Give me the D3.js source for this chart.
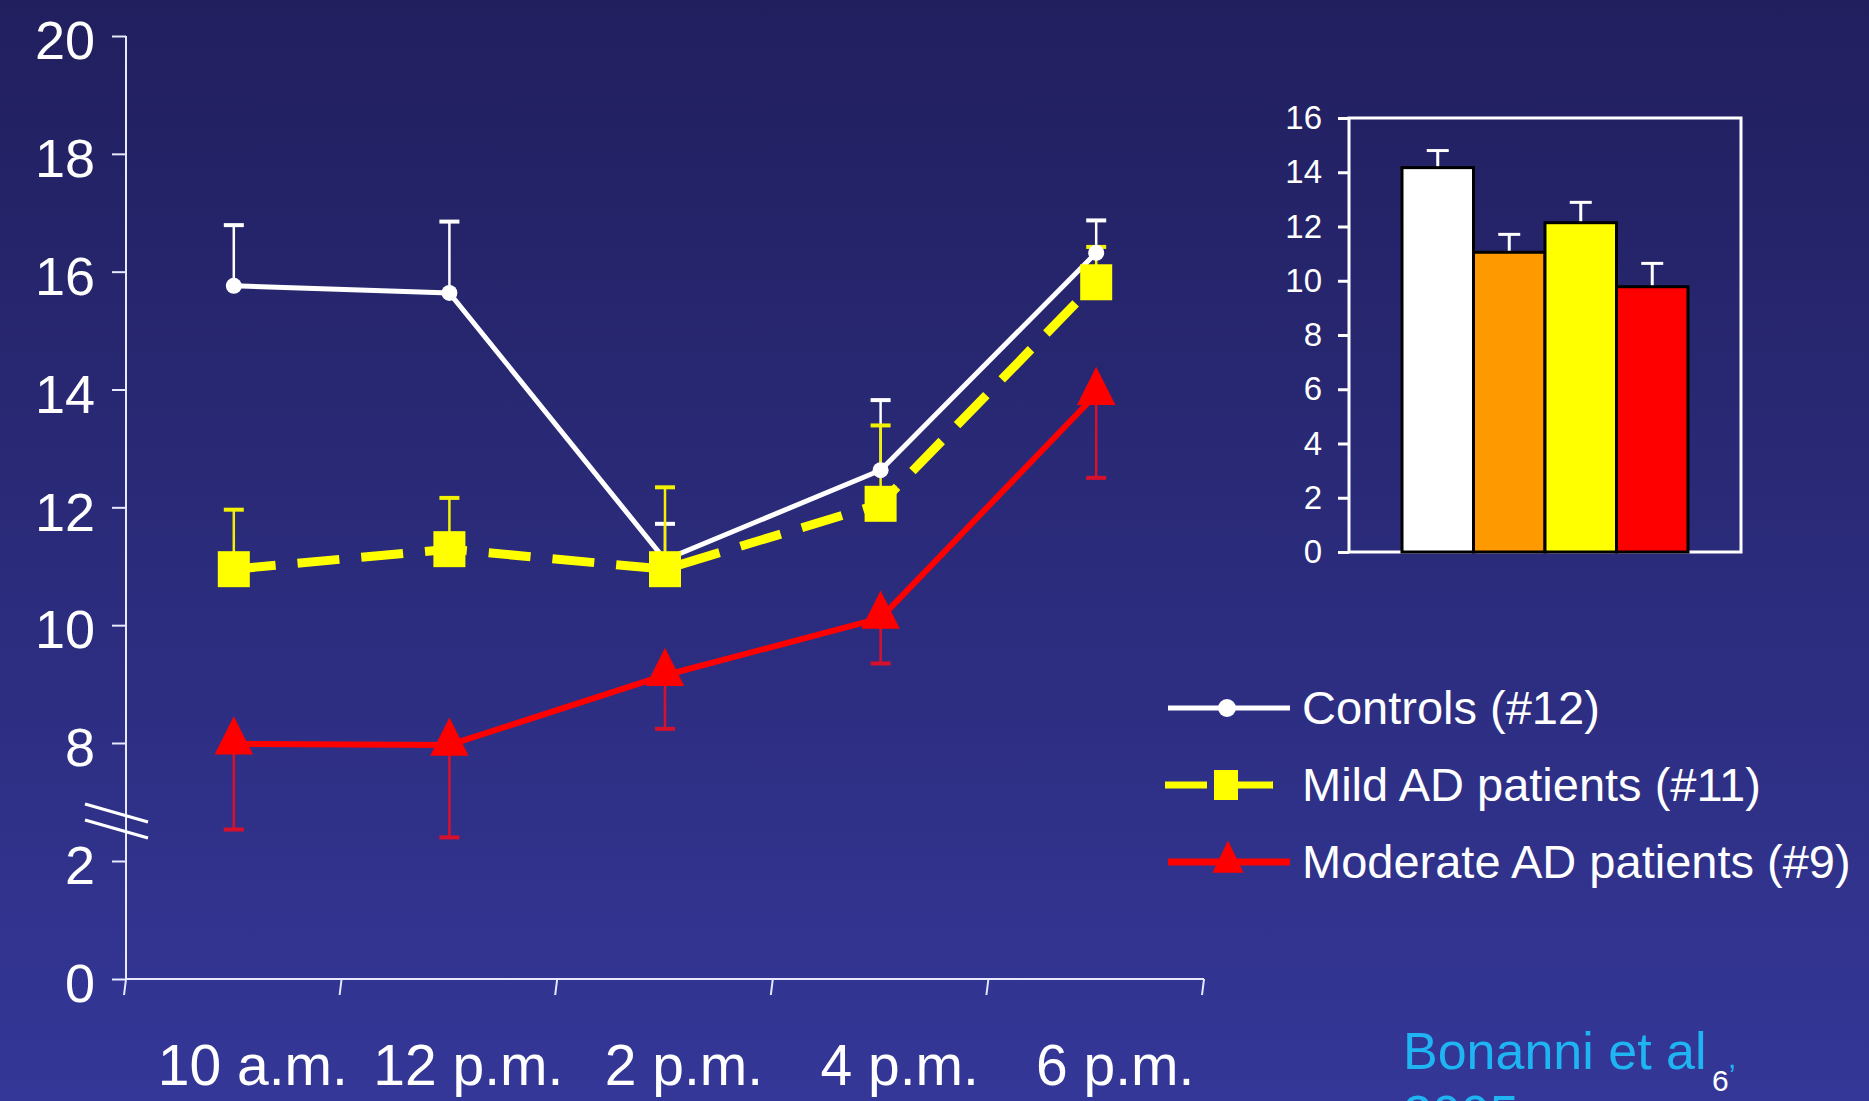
<!DOCTYPE html>
<html>
<head>
<meta charset="utf-8">
<script src="https://cdn.jsdelivr.net/npm/d3@7"></script>
<style>
  html, body { margin: 0; padding: 0; background: #2a2a7c; }
  svg { display: block; font-family: 'Liberation Sans', Arial, sans-serif; }
</style>
</head>
<body>
<div id="chart"></div>
<script>
// main chart data
const times = ['10 a.m.', '12 p.m.', '2 p.m.', '4 p.m.', '6 p.m.'];
const controlsMean = [15.76, 15.64, 11.11, 12.63, 16.32];
const controlsSE = [1.03, 1.21, 0.61, 1.19, 0.55];
const mildMean = [10.95, 11.29, 10.95, 12.06, 15.82];
const mildSE = [1.01, 0.87, 1.39, 1.33, 0.6];
const moderateMean = [7.96, 7.9, 9.15, 10.12, 13.92];
const moderateSE = [4.36, 4.7, 0.91, 0.77, 1.42];
const yTicks = [0, 2, 8, 10, 12, 14, 16, 18, 20];

const legendLabels = ['Controls (#12)', 'Mild AD patients (#11)', 'Moderate AD patients (#9)'];

// inset bar chart
const insetGroups = ['controls', 'group2', 'group3', 'group4'];
const insetMean = [14.17, 11.05, 12.14, 9.78];
const insetSE = [0.63, 0.66, 0.75, 0.86];
const insetTicks = [0, 2, 4, 6, 8, 10, 12, 14, 16];
const insetColors = ['#ffffff', '#ff9900', '#ffff00', '#ff0000'];

const W = 1869, H = 1101;

const svg = d3.select('#chart').append('svg')
  .attr('width', W).attr('height', H);

const defs = svg.append('defs');
const grad = defs.append('linearGradient')
  .attr('id', 'bg').attr('x1', 0).attr('y1', 0).attr('x2', 0).attr('y2', 1);
grad.append('stop').attr('offset', '0%').attr('stop-color', '#211f5e');
grad.append('stop').attr('offset', '100%').attr('stop-color', '#343797');
svg.append('rect').attr('width', W).attr('height', H).attr('fill', 'url(#bg)');

// scales: broken y axis (2 -> 8 squeezed into one step)
const y = d3.scaleLinear().domain([0, 2, 8, 20]).range([979, 861, 743, 36]);
const x = d3.scaleBand().domain(times).range([126, 1204]).padding(0);
const cx = (d) => x(d) + x.bandwidth() / 2;

const g = svg.append('g');

// y axis
const yAxis = g.append('g')
  .attr('transform', 'translate(126,0)')
  .call(d3.axisLeft(y).tickValues(yTicks).tickSize(14).tickPadding(17).tickSizeOuter(0));
yAxis.select('.domain').remove();
yAxis.selectAll('line').attr('stroke', '#e8e8ff').attr('stroke-width', 2);
yAxis.selectAll('text')
  .attr('fill', '#ffffff')
  .attr('dy', '0.42em')
  .style('font-size', '54px')
  .style('font-family', "'Liberation Sans', Arial, sans-serif");
g.append('line')
  .attr('x1', 126).attr('x2', 126)
  .attr('y1', y(20)).attr('y2', y(0))
  .attr('stroke', '#e8e8ff').attr('stroke-width', 2);

// axis break marks
[0, 16].forEach((off) => {
  g.append('line')
    .attr('x1', 85).attr('y1', 804 + off)
    .attr('x2', 148).attr('y2', 822 + off)
    .attr('stroke', '#ffffff').attr('stroke-width', 3);
});

// x axis
g.append('line')
  .attr('x1', 126).attr('x2', 1204)
  .attr('y1', y(0)).attr('y2', y(0))
  .attr('stroke', '#e8e8ff').attr('stroke-width', 2);
const bounds = times.map((t) => x(t)).concat([x.range()[1]]);
g.selectAll('.xtick')
  .data(bounds)
  .join('line')
  .attr('class', 'xtick')
  .attr('x1', (d) => d).attr('x2', (d) => d - 2)
  .attr('y1', y(0)).attr('y2', y(0) + 16)
  .attr('stroke', '#e8e8ff').attr('stroke-width', 2);
g.selectAll('.xlabel')
  .data(times)
  .join('text')
  .attr('class', 'xlabel')
  .attr('x', (d) => cx(d) + 19)
  .attr('y', 1085)
  .attr('text-anchor', 'middle')
  .attr('fill', '#ffffff')
  .style('font-size', '57px')
  .text((d) => d);

const series = [
  {mean: controlsMean, se: controlsSE, dir: 1, color: '#ffffff', errColor: '#ffffff', width: 5, dash: null},
  {mean: mildMean, se: mildSE, dir: 1, color: '#ffff00', errColor: '#f2f200', width: 9, dash: '42,22'},
  {mean: moderateMean, se: moderateSE, dir: -1, color: '#ff0000', errColor: '#d8102c', width: 6, dash: null},
];

// error bars
series.forEach((s) => {
  const eg = g.append('g');
  times.forEach((t, i) => {
    const end = s.mean[i] + s.dir * s.se[i];
    eg.append('line')
      .attr('x1', cx(t)).attr('x2', cx(t))
      .attr('y1', y(s.mean[i])).attr('y2', y(end))
      .attr('stroke', s.errColor).attr('stroke-width', 2.5);
    eg.append('line')
      .attr('x1', cx(t) - 10).attr('x2', cx(t) + 10)
      .attr('y1', y(end)).attr('y2', y(end))
      .attr('stroke', s.errColor).attr('stroke-width', 4);
  });
});

// lines (red first, white on top)
const line = d3.line().x((d, i) => cx(times[i])).y((d) => y(d));
[series[2], series[1], series[0]].forEach((s) => {
  g.append('path')
    .attr('d', line(s.mean))
    .attr('fill', 'none')
    .attr('stroke', s.color)
    .attr('stroke-width', s.width)
    .attr('stroke-dasharray', s.dash);
});

// markers
const tri = d3.symbol().type(d3.symbolTriangle).size(640);
g.selectAll('.tri')
  .data(moderateMean)
  .join('path')
  .attr('class', 'tri')
  .attr('d', tri)
  .attr('transform', (d, i) => `translate(${cx(times[i])},${y(d) - 2}) scale(1,1.15)`)
  .attr('fill', '#ff0000');
g.selectAll('.dot')
  .data(controlsMean)
  .join('circle')
  .attr('class', 'dot')
  .attr('cx', (d, i) => cx(times[i]))
  .attr('cy', (d) => y(d))
  .attr('r', 8)
  .attr('fill', '#ffffff');
g.selectAll('.sq')
  .data(mildMean)
  .join('rect')
  .attr('class', 'sq')
  .attr('x', (d, i) => cx(times[i]) - 16)
  .attr('y', (d) => y(d) - 18)
  .attr('width', 32).attr('height', 36)
  .attr('fill', '#ffff00');

// legend
const lg = svg.append('g');
const legendY = [708, 785, 862];
lg.append('line').attr('x1', 1168).attr('x2', 1290).attr('y1', legendY[0]).attr('y2', legendY[0])
  .attr('stroke', '#ffffff').attr('stroke-width', 5);
lg.append('circle').attr('cx', 1227).attr('cy', legendY[0]).attr('r', 9).attr('fill', '#ffffff');
lg.append('line').attr('x1', 1165).attr('x2', 1273).attr('y1', legendY[1]).attr('y2', legendY[1])
  .attr('stroke', '#ffff00').attr('stroke-width', 7).attr('stroke-dasharray', '42,65');
lg.append('line').attr('x1', 1238).attr('x2', 1273).attr('y1', legendY[1]).attr('y2', legendY[1])
  .attr('stroke', '#ffff00').attr('stroke-width', 7);
lg.append('rect').attr('x', 1214).attr('y', legendY[1] - 15).attr('width', 24).attr('height', 30)
  .attr('fill', '#ffff00');
lg.append('line').attr('x1', 1168).attr('x2', 1290).attr('y1', legendY[2]).attr('y2', legendY[2])
  .attr('stroke', '#ff0000').attr('stroke-width', 7);
lg.append('path')
  .attr('d', d3.symbol().type(d3.symbolTriangle).size(420))
  .attr('transform', `translate(1228,${legendY[2]}) scale(1,1.2)`)
  .attr('fill', '#ff0000');
lg.selectAll('.ltext')
  .data(legendLabels)
  .join('text')
  .attr('class', 'ltext')
  .attr('x', 1302)
  .attr('y', (d, i) => legendY[i] + 16)
  .attr('fill', '#ffffff')
  .style('font-size', '47px')
  .text((d) => d);

// inset bar chart
const iy = d3.scaleLinear().domain([0, 16]).range([552, 118]);
const ix = d3.scaleBand().domain(insetGroups).range([1402, 1688]).padding(0);
const ig = svg.append('g');
ig.append('rect')
  .attr('x', 1349).attr('y', iy(16))
  .attr('width', 1741 - 1349).attr('height', iy(0) - iy(16))
  .attr('fill', 'none').attr('stroke', '#ffffff').attr('stroke-width', 3);
const iAxis = ig.append('g')
  .attr('transform', 'translate(1349,0)')
  .call(d3.axisLeft(iy).tickValues(insetTicks).tickSize(11).tickPadding(16));
iAxis.select('.domain').remove();
iAxis.selectAll('line').attr('stroke', '#ffffff').attr('stroke-width', 3);
iAxis.selectAll('text')
  .attr('fill', '#ffffff')
  .style('font-size', '33px')
  .style('font-family', "'Liberation Sans', Arial, sans-serif");
ig.selectAll('.ierr')
  .data(insetGroups)
  .join('g')
  .attr('class', 'ierr')
  .each(function (d, i) {
    const e = d3.select(this);
    const xc = ix(d) + ix.bandwidth() / 2;
    e.append('line').attr('x1', xc).attr('x2', xc)
      .attr('y1', iy(insetMean[i])).attr('y2', iy(insetMean[i] + insetSE[i]))
      .attr('stroke', '#ffffff').attr('stroke-width', 3);
    e.append('line').attr('x1', xc - 11).attr('x2', xc + 11)
      .attr('y1', iy(insetMean[i] + insetSE[i])).attr('y2', iy(insetMean[i] + insetSE[i]))
      .attr('stroke', '#ffffff').attr('stroke-width', 3);
  });
ig.selectAll('.ibar')
  .data(insetGroups)
  .join('rect')
  .attr('class', 'ibar')
  .attr('x', (d) => ix(d))
  .attr('y', (d, i) => iy(insetMean[i]))
  .attr('width', ix.bandwidth())
  .attr('height', (d, i) => iy(0) - iy(insetMean[i]))
  .attr('fill', (d, i) => insetColors[i])
  .attr('stroke', '#000000').attr('stroke-width', 3);

// citation
const cite = svg.append('g');
cite.append('text').attr('x', 1403).attr('y', 1069)
  .attr('fill', '#1fb4f2').style('font-size', '52px').text('Bonanni et al');
cite.append('text').attr('x', 1712).attr('y', 1091)
  .attr('fill', '#ffffff').style('font-size', '30px').text('6');
cite.append('text').attr('x', 1728).attr('y', 1068)
  .attr('fill', '#1fb4f2').style('font-size', '30px').text(',');
cite.append('text').attr('x', 1403).attr('y', 1132)
  .attr('fill', '#1fb4f2').style('font-size', '52px').text('2005');
</script>
</body>
</html>
